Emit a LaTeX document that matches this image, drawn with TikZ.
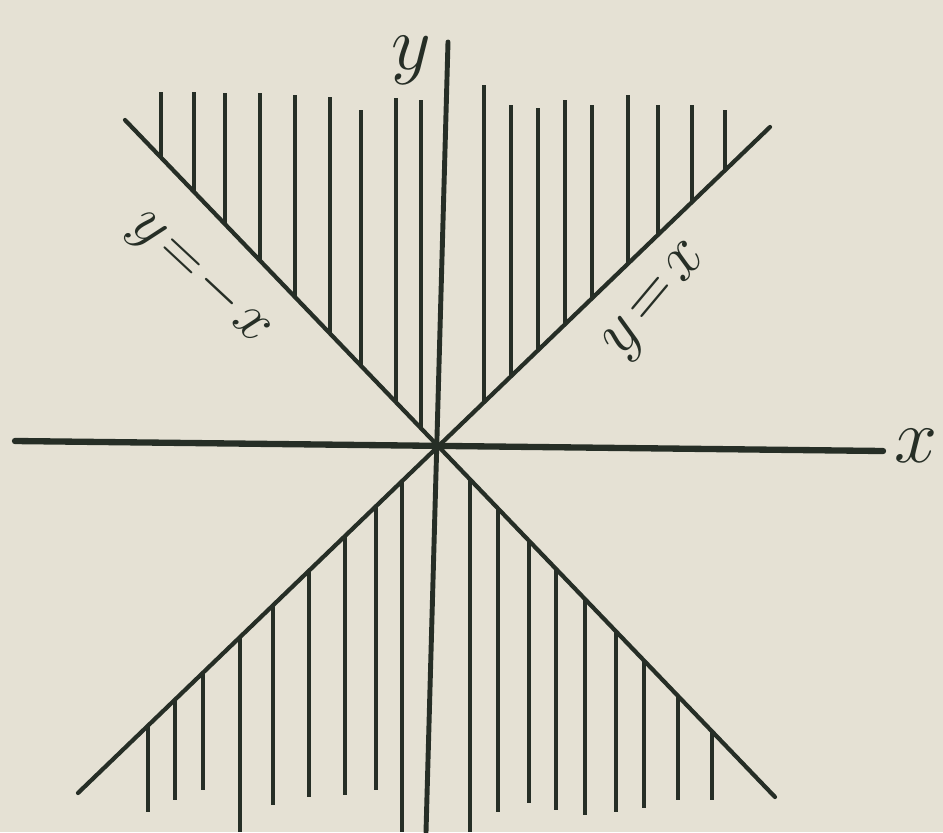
\RequirePackage{fix-cm}
\documentclass[tikz,border=0pt]{standalone}
\usepackage{tikz}
\usetikzlibrary{calc}
\definecolor{ink}{RGB}{38,46,38}
\definecolor{paper}{RGB}{229,225,212}
\tikzset{
  axis/.style={draw=ink,line width=3.6pt,line cap=round},
  diag/.style={draw=ink,line width=2.4pt,line cap=round},
  hatch/.style={draw=ink,line width=1.9pt},
  lab/.style={text=ink,inner sep=0pt,font=\fontsize{35}{35}\selectfont}
}
\begin{document}
\begin{tikzpicture}[x=0.02cm,y=-0.02cm]
\fill[paper] (0,0) rectangle (943,832);
\useasboundingbox (0,0) rectangle (943,832);
\coordinate (O) at (437,447);
\coordinate (ul) at (125,120);\coordinate (lr) at (775,797);
\coordinate (ur) at (770,127);\coordinate (ll) at (78,793);
\coordinate (xl) at (15,441);\coordinate (xr) at (883,451);
\coordinate (yt) at (448,42);\coordinate (yb) at (426,832);
% hatching, upper wedge
\begin{scope}
\clip (O) -- ($(O)!3!(ul)$) -- ($(O)!3!(ur)$) -- cycle;
\foreach \x/\t in {161/92,194/92,225/93,260/93,295/95,330/97,361/110,396/98,421/100,
  484/85,511/105,538/108,565/100,592/105,628/95,658/105,692/105,725/110}
  \draw[hatch] (\x,\t) -- (\x,460);
\end{scope}
% hatching, lower wedge
\begin{scope}
\clip (O) -- ($(O)!3!(ll)$) -- ($(O)!3!(lr)$) -- cycle;
\foreach \x/\b in {148/812,175/800,203/790,240/832,273/805,309/797,345/795,376/790,402/832,
  470/832,498/812,529/803,556/810,585/815,616/812,644/808,678/800,712/800}
  \draw[hatch] (\x,440) -- (\x,\b);
\end{scope}
\draw[axis] (xl) -- (xr);
\draw[axis,line width=2.8pt] (yt) -- (yb);
\draw[diag] (ul) -- (lr);
\draw[diag] (ur) -- (ll);
\node[lab,font=\fontsize{44}{44}\selectfont] (xlab) at (916,446) {$x$};
\node[lab,font=\fontsize{44}{44}\selectfont] (ylab) at (411,60) {$y$};
\node[lab,rotate=-43] (lneg) at (200,278) {$y\kern3pt{=}\kern3pt{-}\kern3pt x$};
\node[lab,rotate=50,font=\fontsize{38}{38}\selectfont] (lpos) at (658,302) {$y\kern4pt{=}\kern4pt x$};
\end{tikzpicture}
\end{document}
